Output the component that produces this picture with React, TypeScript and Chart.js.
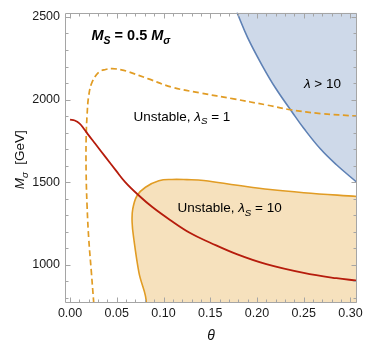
import React, { useEffect, useRef } from 'react';
import { Chart, registerables } from 'chart.js';

Chart.register(...registerables);

// ---- axis ranges & ticks ----
const X_MIN = -0.0054;
const X_MAX = 0.307;
const Y_MIN = 768;
const Y_MAX = 2527;
const X_TICKS = [0, 0.05, 0.1, 0.15, 0.2, 0.25, 0.3];
const Y_TICKS = [1000, 1500, 2000, 2500];
const X_MINOR = [0.01, 0.02, 0.03, 0.04, 0.06, 0.07, 0.08, 0.09, 0.11, 0.12, 0.13, 0.14, 0.16, 0.17, 0.18, 0.19, 0.21, 0.22, 0.23, 0.24, 0.26, 0.27, 0.28, 0.29];
const Y_MINOR = [800, 900, 1100, 1200, 1300, 1400, 1600, 1700, 1800, 1900, 2100, 2200, 2300, 2400];

// ---- red solid curve ----
const RED_THETA = [0, 0.005, 0.01, 0.015, 0.02, 0.027, 0.038, 0.049, 0.059, 0.0736, 0.088, 0.107, 0.129, 0.15, 0.179, 0.21, 0.25, 0.285, 0.307];
const RED_M = [1878, 1873, 1856, 1822, 1783, 1732, 1651, 1571, 1500, 1419, 1349, 1271, 1190, 1133, 1062, 1003, 950, 918, 904];

// ---- orange dashed curve (Unstable, lambda_S = 1) ----
const DASH_THETA = [0.0254, 0.0228, 0.02, 0.0182, 0.0172, 0.0172, 0.0182, 0.02, 0.0236, 0.0307, 0.038, 0.045, 0.055, 0.063, 0.084, 0.109, 0.139, 0.175, 0.211, 0.236, 0.268, 0.307];
const DASH_M = [765, 955, 1157, 1358, 1560, 1762, 1903, 2024, 2105, 2165, 2182, 2187, 2180, 2167, 2125, 2075, 2040, 2004, 1966, 1938, 1915, 1900];

// ---- orange region boundary (Unstable, lambda_S = 10); first entry is the region's bottom-left corner below the frame ----
const ORANGE_THETA = [0.066, 0.0813, 0.0736, 0.0682, 0.0664, 0.0671, 0.0718, 0.0807, 0.095, 0.109, 0.125, 0.143, 0.179, 0.214, 0.25, 0.307];
const ORANGE_M = [740, 750, 955, 1157, 1257, 1338, 1419, 1469, 1508, 1516, 1515, 1510, 1481, 1455, 1436, 1413];

// ---- blue region boundary (lambda > 10) ----
const BLUE_THETA = [0.1786, 0.19, 0.205, 0.22, 0.2375, 0.25, 0.268, 0.285, 0.307];
const BLUE_M = [2527, 2375, 2212, 2068, 1925, 1826, 1700, 1605, 1498];

// ---- annotation anchors (data coordinates) ----
const TITLE_AT = { x: 0.023, y: 2360 };
const LAMBDA_AT = { x: 0.27, y: 2071 };
const UNST1_AT = { x: 0.1197, y: 1873 };
const UNST10_AT = { x: 0.1707, y: 1318 };

const RED = 'rgb(182,28,12)';
const ORANGE = 'rgb(225,156,36)';
const ORANGE_FILL = 'rgba(225,156,36,0.3)';
const BLUE = 'rgb(94,129,181)';
const BLUE_FILL = 'rgba(94,129,181,0.3)';
const FRAME = 'rgb(165,165,165)';
const FONT = '"Liberation Sans", Arial, sans-serif';

const zip = (xs: number[], ys: number[]) => xs.map((x, i) => ({ x, y: ys[i] }));

type Run = { t: string; italic?: boolean; bold?: boolean; sub?: boolean };

function drawRuns(ctx: CanvasRenderingContext2D, runs: Run[], x: number, y: number, size: number, align: 'left' | 'center') {
  const fontOf = (r: Run) => `${r.italic ? 'italic ' : ''}${r.bold ? 'bold ' : ''}${r.sub ? size * 0.72 : size}px ${FONT}`;
  const widths = runs.map((r) => {
    ctx.font = fontOf(r);
    return ctx.measureText(r.t).width;
  });
  const total = widths.reduce((a, b) => a + b, 0);
  let cx = align === 'center' ? x - total / 2 : x;
  ctx.textBaseline = 'alphabetic';
  ctx.textAlign = 'left';
  runs.forEach((r, i) => {
    ctx.font = fontOf(r);
    ctx.fillText(r.t, cx, y + (r.sub ? size * 0.27 : 0));
    cx += widths[i];
  });
}

const framePlugin = {
  id: 'mmaFrame',
  afterDatasetsDraw(chart: any) {
    const { ctx, chartArea: a, scales } = chart;
    const xs = scales.x;
    const ys = scales.y;
    ctx.save();
    ctx.fillStyle = '#000';

    // annotations
    drawRuns(ctx, [
      { t: 'M', italic: true, bold: true },
      { t: 'S', italic: true, bold: true, sub: true },
      { t: ' = 0.5 ', bold: true },
      { t: 'M', italic: true, bold: true },
      { t: 'σ', italic: true, bold: true, sub: true },
    ], xs.getPixelForValue(TITLE_AT.x), ys.getPixelForValue(TITLE_AT.y), 14.5, 'left');

    drawRuns(ctx, [
      { t: 'λ', italic: true },
      { t: ' > 10' },
    ], xs.getPixelForValue(LAMBDA_AT.x), ys.getPixelForValue(LAMBDA_AT.y), 13.5, 'center');

    drawRuns(ctx, [
      { t: 'Unstable, ' },
      { t: 'λ', italic: true },
      { t: 'S', italic: true, sub: true },
      { t: ' = 1' },
    ], xs.getPixelForValue(UNST1_AT.x), ys.getPixelForValue(UNST1_AT.y), 13.5, 'center');

    drawRuns(ctx, [
      { t: 'Unstable, ' },
      { t: 'λ', italic: true },
      { t: 'S', italic: true, sub: true },
      { t: ' = 10' },
    ], xs.getPixelForValue(UNST10_AT.x), ys.getPixelForValue(UNST10_AT.y), 13.5, 'center');

    // axis titles
    ctx.fillStyle = '#111';
    drawRuns(ctx, [{ t: 'θ', italic: true }], (a.left + a.right) / 2, 340, 14, 'center');
    ctx.save();
    ctx.translate(24, (a.top + a.bottom) / 2 + 2);
    ctx.rotate(-Math.PI / 2);
    drawRuns(ctx, [
      { t: 'M', italic: true },
      { t: 'σ', italic: true, sub: true },
      { t: '  [GeV]' },
    ], 0, 0, 13.5, 'center');
    ctx.restore();

    // frame
    const L = Math.round(a.left) + 0.5;
    const R = Math.round(a.right) - 0.5;
    const T = Math.round(a.top) + 0.5;
    const B = Math.round(a.bottom) - 0.5;
    ctx.strokeStyle = FRAME;
    ctx.lineWidth = 1;
    ctx.beginPath();
    ctx.rect(L, T, R - L, B - T);
    ctx.stroke();

    const tickX = (v: number, len: number) => {
      const p = Math.round(xs.getPixelForValue(v)) + 0.5;
      ctx.moveTo(p, B); ctx.lineTo(p, B - len);
      ctx.moveTo(p, T); ctx.lineTo(p, T + len);
    };
    const tickY = (v: number, len: number) => {
      const p = Math.round(ys.getPixelForValue(v)) + 0.5;
      ctx.moveTo(L, p); ctx.lineTo(L + len, p);
      ctx.moveTo(R, p); ctx.lineTo(R - len, p);
    };
    ctx.beginPath();
    X_TICKS.forEach((v) => tickX(v, 5));
    X_MINOR.forEach((v) => tickX(v, 3));
    Y_TICKS.forEach((v) => tickY(v, 5));
    Y_MINOR.forEach((v) => tickY(v, 3));
    ctx.stroke();
    ctx.restore();
  },
};

export default function App() {
  const ref = useRef<HTMLCanvasElement>(null);
  useEffect(() => {
    if (!ref.current) return;
    const chart = new Chart(ref.current, {
      type: 'scatter',
      data: {
        datasets: [
          {
            label: 'red',
            data: zip(RED_THETA, RED_M),
            showLine: true,
            borderColor: RED,
            borderWidth: 1.8,
            pointRadius: 0,
            tension: 0.4,
            fill: false,
          },
          {
            label: 'dashed',
            data: zip(DASH_THETA, DASH_M),
            showLine: true,
            borderColor: ORANGE,
            borderWidth: 1.7,
            borderDash: [6, 3.5],
            pointRadius: 0,
            tension: 0.4,
            fill: false,
          },
          {
            label: 'blue',
            data: zip(BLUE_THETA, BLUE_M),
            showLine: true,
            borderColor: BLUE,
            backgroundColor: BLUE_FILL,
            borderWidth: 1.6,
            pointRadius: 0,
            tension: 0.4,
            fill: 'end',
          },
          {
            label: 'orange',
            data: zip(ORANGE_THETA, ORANGE_M),
            showLine: true,
            borderColor: ORANGE,
            backgroundColor: ORANGE_FILL,
            borderWidth: 1.6,
            pointRadius: 0,
            tension: 0.4,
            fill: 'start',
          },
        ] as any,
      },
      options: {
        responsive: false,
        animation: false,
        devicePixelRatio: 1,
        layout: { padding: { top: 12, right: 17, left: 0, bottom: 0 } },
        elements: { line: { capBezierPoints: false } },
        plugins: {
          legend: { display: false },
          tooltip: { enabled: false },
          filler: { drawTime: 'beforeDatasetsDraw' },
        } as any,
        scales: {
          x: {
            type: 'linear',
            min: X_MIN,
            max: X_MAX,
            grid: { display: false, drawTicks: false },
            border: { display: false },
            afterFit: (s: any) => { s.height = 50; },
            afterBuildTicks: (s: any) => { s.ticks = X_TICKS.map((v) => ({ value: v })); },
            ticks: {
              padding: 3,
              maxRotation: 0,
              autoSkip: false,
              color: '#1a1a1a',
              font: { family: FONT, size: 12.5 },
              callback: (v: any) => Number(v).toFixed(2),
            },
          },
          y: {
            type: 'linear',
            min: Y_MIN,
            max: Y_MAX,
            grid: { display: false, drawTicks: false },
            border: { display: false },
            afterFit: (s: any) => { s.width = 65; },
            afterBuildTicks: (s: any) => { s.ticks = Y_TICKS.map((v) => ({ value: v })); },
            ticks: {
              padding: 5,
              autoSkip: false,
              color: '#1a1a1a',
              font: { family: FONT, size: 12.5 },
              callback: (v: any) => String(v),
            },
          },
        },
      } as any,
      plugins: [framePlugin],
    });
    return () => chart.destroy();
  }, []);
  return (
    <div style={{ position: 'fixed', left: 0, top: 0, width: 374, height: 353, background: '#fff' }}>
      <canvas ref={ref} width={374} height={353} style={{ display: 'block', width: 374, height: 353 }} />
    </div>
  );
}
